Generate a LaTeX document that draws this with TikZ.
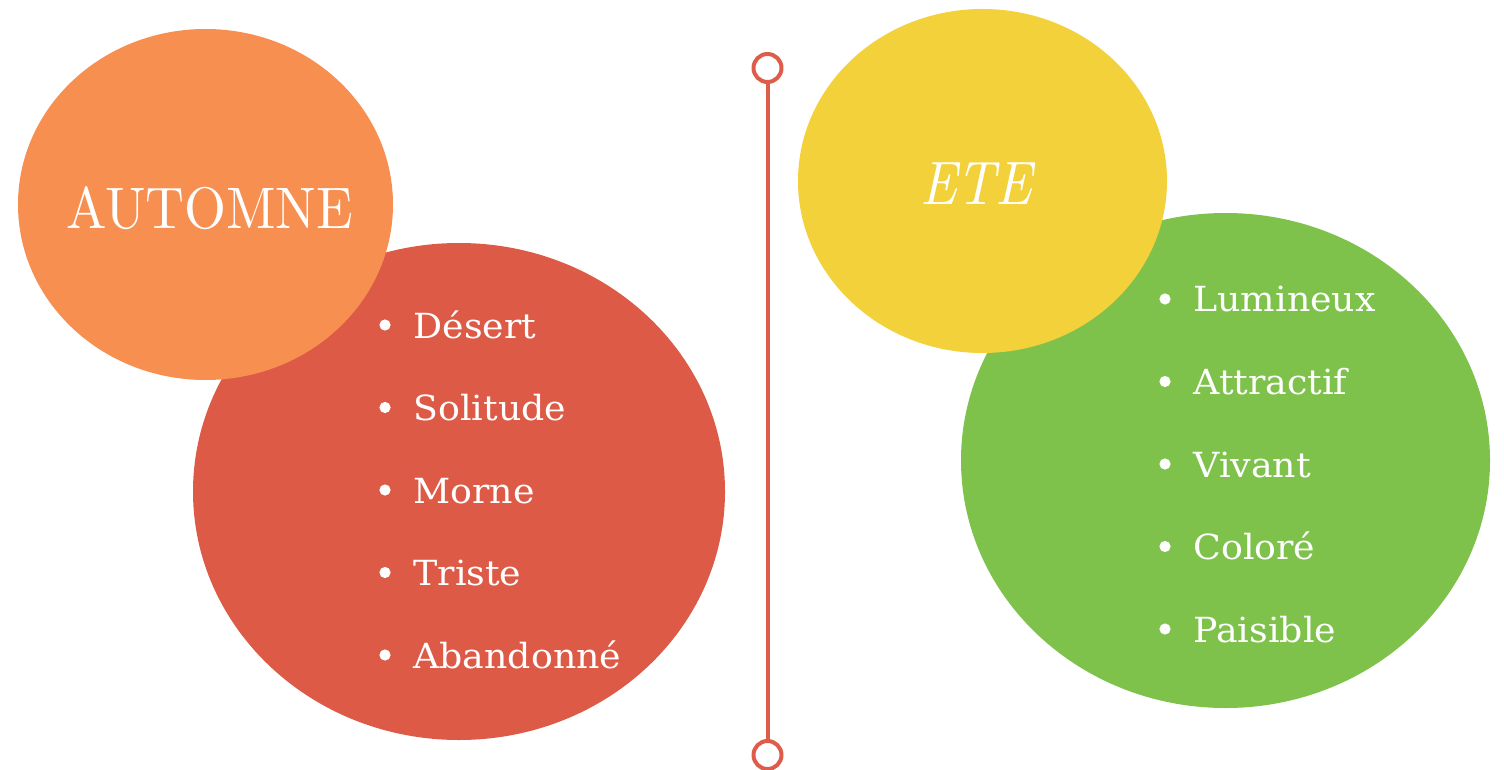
\documentclass[tikz,border=0pt]{standalone}
\usepackage{fontspec}
\usetikzlibrary{shapes.geometric}
\newfontfamily\titlefont{lmroman10-regular.otf}[FakeStretch=0.92]
\newfontfamily\titleitfont{lmroman10-italic.otf}[FakeStretch=0.88]
\newfontfamily\listfont{DejaVu Serif}[FakeStretch=1.05]
\definecolor{autumnOrange}{RGB}{247,143,81}
\definecolor{autumnRed}{RGB}{221,90,71}
\definecolor{summerYellow}{RGB}{243,209,58}
\definecolor{summerGreen}{RGB}{126,194,76}
\definecolor{lineRed}{RGB}{221,93,74}
\tikzset{
	blob/.style={ellipse, inner sep=0pt},
	title/.style={inner sep=0pt, text=white},
	item/.style={anchor=base west, inner sep=0pt, text=white, font=\listfont\fontsize{17.3}{20}\selectfont},
	ring/.style={circle, draw=lineRed, line width=2pt, fill=white, minimum size=14pt, inner sep=0pt}
}

\begin{document}
\begin{tikzpicture}[x=0.5pt, y=-0.5pt]
			%%%%% START %%%%%
			\useasboundingbox (0, 0) rectangle (1504, 770);
			
			\node[blob, fill=autumnRed, minimum width=266pt, minimum height=248.5pt] (rouge) at (459, 491.5) {};
			\node[blob, fill=autumnOrange, minimum width=187.5pt, minimum height=175.5pt] (orange) at (205.5, 204.5) {};
			\node[title, font=\titlefont\fontsize{29.3}{32}\selectfont] (automne) at (209.5, 208) {AUTOMNE};
			
			\node[blob, fill=summerGreen, minimum width=264.5pt, minimum height=247.5pt] (vert) at (1225.5, 460.5) {};
			\node[blob, fill=summerYellow, minimum width=184.5pt, minimum height=172pt] (jaune) at (982.5, 181) {};
			\node[title, font=\titleitfont\fontsize{30.7}{33}\selectfont] (ete) at (976, 184) {ETE};
			
			\node[ring] (haut) at (767.5, 68) {};
			\node[ring] (bas) at (767.5, 755) {};
			\draw[line width=2pt, color=lineRed] (haut) -- (bas);
			
			\foreach \word [count=\i] in {Désert, Solitude, Morne, Triste, Abandonné}{
				\node[item] (aut\i) at (413, {255.5+82.5*\i}) {\word};
				\fill[white] ([xshift=-14pt, yshift=6.5pt]aut\i.base west) circle (2.8pt);
			}
			
			\foreach \word [count=\i] in {Lumineux, Attractif, Vivant, Coloré, Paisible}{
				\node[item] (ete\i) at (1193, {229.5+82.5*\i}) {\word};
				\fill[white] ([xshift=-14pt, yshift=6.5pt]ete\i.base west) circle (2.8pt);
			}
			
			%%%%% END %%%%%
		\end{tikzpicture}
\end{document}
